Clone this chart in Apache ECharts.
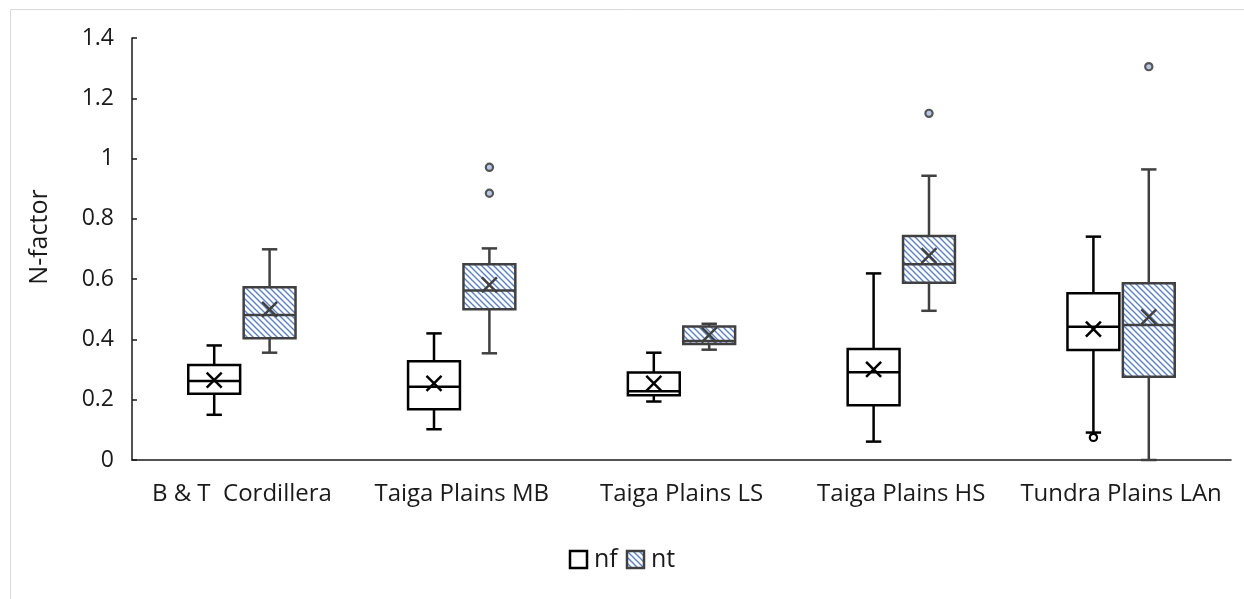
<!DOCTYPE html>
<html>
<head>
<meta charset="utf-8">
<script src="https://cdn.jsdelivr.net/npm/echarts@6/dist/echarts.min.js"></script>
<style>
html,body{margin:0;padding:0;background:#fff;}
#chart{width:1244px;height:599px;}
</style>
</head>
<body>
<div id="chart"></div>
<script>
// ---- data ----
const categories = ['B & T  Cordillera', 'Taiga Plains MB', 'Taiga Plains LS', 'Taiga Plains HS', 'Tundra Plains LAn'];
// [min, Q1, median, Q3, max]
const nfBoxes = [
  [0.15, 0.22, 0.262, 0.315, 0.38],
  [0.102, 0.168, 0.243, 0.328, 0.42],
  [0.194, 0.215, 0.228, 0.29, 0.356],
  [0.061, 0.182, 0.291, 0.368, 0.619],
  [0.091, 0.365, 0.442, 0.553, 0.741]
];
const nfMeans = [0.265, 0.254, 0.254, 0.301, 0.434];
const nfOutliers = [[4, 0.075]];
const ntBoxes = [
  [0.356, 0.404, 0.481, 0.573, 0.699],
  [0.354, 0.5, 0.562, 0.649, 0.702],
  [0.366, 0.385, 0.395, 0.443, 0.452],
  [0.495, 0.588, 0.649, 0.743, 0.943],
  [0.0, 0.276, 0.448, 0.586, 0.964]
];
const ntMeans = [0.5, 0.581, 0.415, 0.678, 0.475];
const ntOutliers = [[1, 0.971], [1, 0.885], [3, 1.15], [4, 1.305]];
const yTicks = [0, 0.2, 0.4, 0.6, 0.8, 1, 1.2, 1.4];

// ---- hatch pattern ----
function makeHatch() {
  const s = 6;
  const c = document.createElement('canvas');
  c.width = s; c.height = s;
  const g = c.getContext('2d');
  g.fillStyle = '#ffffff';
  g.fillRect(0, 0, s, s);
  g.strokeStyle = '#5b82c8';
  g.lineWidth = 1.4;
  g.beginPath();
  g.moveTo(-1, -1); g.lineTo(s + 1, s + 1);
  g.moveTo(-1, s - 1); g.lineTo(1, s + 1);
  g.moveTo(s - 1, -1); g.lineTo(s + 1, 1);
  g.stroke();
  return c;
}
const hatch = { image: makeHatch(), repeat: 'repeat' };

const FONT = '"Open Sans", "Noto Sans", sans-serif';

function boxRenderer(side, stroke, fill, means) {
  return function (params, api) {
    const idx = api.value(0);
    const band = api.size([1, 0])[0];
    const cx = api.coord([idx, 0])[0] + side * band * 0.126;
    const bw = band * 0.236;
    const cap = band * 0.07;
    const y = v => api.coord([idx, v])[1];
    const yMin = y(api.value(1)), yQ1 = y(api.value(2)), yMed = y(api.value(3)),
          yQ3 = y(api.value(4)), yMax = y(api.value(5));
    const yMean = y(means[params.dataIndex]);
    const lw = 2.5;
    const ls = { stroke: stroke, lineWidth: lw, fill: null };
    const m = 7.5;
    return {
      type: 'group',
      children: [
        { type: 'line', shape: { x1: cx, y1: yMin, x2: cx, y2: yQ1 }, style: ls },
        { type: 'line', shape: { x1: cx, y1: yQ3, x2: cx, y2: yMax }, style: ls },
        { type: 'line', shape: { x1: cx - cap / 2, y1: yMin, x2: cx + cap / 2, y2: yMin }, style: ls },
        { type: 'line', shape: { x1: cx - cap / 2, y1: yMax, x2: cx + cap / 2, y2: yMax }, style: ls },
        { type: 'rect', shape: { x: cx - bw / 2, y: yQ3, width: bw, height: yQ1 - yQ3 },
          style: { fill: fill, stroke: stroke, lineWidth: lw } },
        { type: 'line', shape: { x1: cx - bw / 2, y1: yMed, x2: cx + bw / 2, y2: yMed }, style: ls },
        { type: 'line', shape: { x1: cx - m, y1: yMean - m, x2: cx + m, y2: yMean + m }, style: ls },
        { type: 'line', shape: { x1: cx - m, y1: yMean + m, x2: cx + m, y2: yMean - m }, style: ls }
      ]
    };
  };
}

function outlierRenderer(side, stroke, fill) {
  return function (params, api) {
    const idx = api.value(0);
    const band = api.size([1, 0])[0];
    const p = api.coord([idx, api.value(1)]);
    return {
      type: 'circle',
      shape: { cx: p[0] + side * band * 0.126, cy: p[1], r: 3.6 },
      style: { fill: fill, stroke: stroke, lineWidth: 2.2 }
    };
  };
}

const chart = echarts.init(document.getElementById('chart'), null, { renderer: 'canvas' });
chart.setOption({
  backgroundColor: '#ffffff',
  animation: false,
  textStyle: { fontFamily: FONT },
  graphic: [{
    type: 'rect', left: 8, top: 7, silent: true,
    shape: { width: 1300, height: 700 },
    style: { fill: null, stroke: '#d9d9d9', lineWidth: 1 }
  }],
  grid: { left: 132, right: 13, top: 38, bottom: 139 },
  legend: {
    bottom: 22, left: 'center',
    itemWidth: 17, itemHeight: 17, itemGap: 8,
    icon: 'rect',
    textStyle: { fontFamily: FONT, fontSize: 25, color: '#1a1a1a', padding: [0, 0, 0, 2] },
    data: [
      { name: 'nf', itemStyle: { color: '#ffffff', borderColor: '#000000', borderWidth: 2.5 } },
      { name: 'nt', itemStyle: { color: hatch, borderColor: '#404040', borderWidth: 2.5 } }
    ]
  },
  xAxis: {
    type: 'category',
    data: categories,
    axisLine: { lineStyle: { color: '#1a1a1a', width: 1.5 } },
    axisTick: { show: false },
    axisLabel: { fontFamily: FONT, fontSize: 24, color: '#1a1a1a', margin: 22, interval: 0 }
  },
  yAxis: {
    type: 'value',
    min: 0, max: 1.4, interval: 0.2,
    name: 'N-factor',
    nameLocation: 'middle',
    nameGap: 80,
    nameRotate: 90,
    nameTextStyle: { fontFamily: FONT, fontSize: 25, color: '#1a1a1a', padding: [0, 0, 0, 24] },
    axisLine: { show: true, lineStyle: { color: '#1a1a1a', width: 1.5 } },
    axisTick: { show: true, inside: true, length: 5, lineStyle: { color: '#1a1a1a', width: 1.5 } },
    splitLine: { show: false },
    axisLabel: {
      fontFamily: FONT, fontSize: 23, color: '#1a1a1a', margin: 18,
      formatter: v => {
        const t = yTicks.find(x => Math.abs(x - v) < 1e-9);
        return t === undefined ? '' : String(t);
      }
    }
  },
  series: [
    { name: 'nf outliers', type: 'custom', z: 1,
      renderItem: outlierRenderer(-1, '#000000', '#ffffff'),
      encode: { x: 0, y: 1 }, data: nfOutliers },
    { name: 'nt outliers', type: 'custom', z: 1,
      renderItem: outlierRenderer(1, '#555555', '#b8c8e6'),
      encode: { x: 0, y: 1 }, data: ntOutliers },
    { name: 'nf', type: 'custom', z: 2,
      itemStyle: { color: '#ffffff', borderColor: '#000000', borderWidth: 2.5 },
      renderItem: boxRenderer(-1, '#000000', '#ffffff', nfMeans),
      encode: { x: 0, y: [1, 2, 3, 4, 5] },
      data: nfBoxes.map((b, i) => [i].concat(b)) },
    { name: 'nt', type: 'custom', z: 2,
      itemStyle: { color: hatch, borderColor: '#404040', borderWidth: 2.5 },
      renderItem: boxRenderer(1, '#404040', hatch, ntMeans),
      encode: { x: 0, y: [1, 2, 3, 4, 5] },
      data: ntBoxes.map((b, i) => [i].concat(b)) }
  ]
});
</script>
</body>
</html>
